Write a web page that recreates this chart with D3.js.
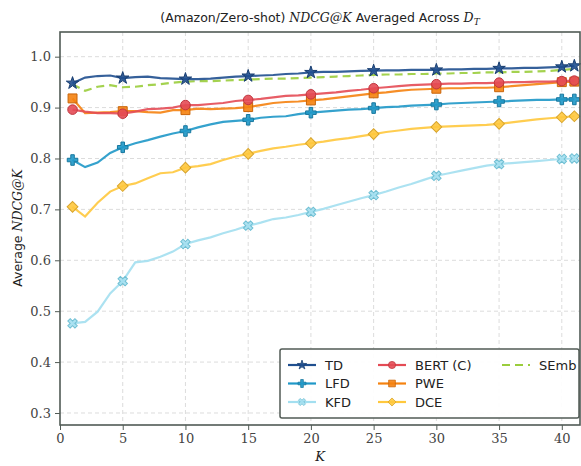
<!DOCTYPE html>
<html>
<head>
<meta charset="utf-8">
<script src="https://cdn.jsdelivr.net/npm/d3@7"></script>
<style>
  body { margin: 0; background: #fff; }
  svg { display: block; }
</style>
</head>
<body>
<svg></svg>
<script>
const width = 581;
const height = 466;

const kValues = d3.range(1, 42);
const markerKs = [1, 5, 10, 15, 20, 25, 30, 35, 40, 41];
const xTicks = [0, 5, 10, 15, 20, 25, 30, 35, 40];
const yTicks = [0.3, 0.4, 0.5, 0.6, 0.7, 0.8, 0.9, 1.0];

const tdValues = [0.948,0.959,0.962,0.963,0.958,0.960,0.961,0.958,0.957,0.956,0.956,0.957,0.959,0.961,0.962,0.963,0.964,0.966,0.967,0.969,0.970,0.970,0.971,0.972,0.9725,0.973,0.973,0.974,0.974,0.974,0.975,0.975,0.976,0.976,0.977,0.977,0.978,0.978,0.979,0.980,0.982];
const lfdValues = [0.797,0.783,0.792,0.811,0.822,0.830,0.836,0.843,0.849,0.854,0.861,0.867,0.872,0.874,0.876,0.880,0.882,0.883,0.887,0.890,0.892,0.894,0.896,0.897,0.899,0.901,0.902,0.904,0.905,0.906,0.908,0.909,0.910,0.911,0.912,0.913,0.914,0.915,0.915,0.916,0.916];
const kfdValues = [0.476,0.479,0.499,0.535,0.559,0.596,0.599,0.607,0.617,0.632,0.639,0.645,0.653,0.660,0.668,0.674,0.681,0.684,0.689,0.695,0.701,0.708,0.715,0.722,0.728,0.735,0.743,0.750,0.758,0.766,0.771,0.776,0.781,0.786,0.789,0.791,0.793,0.795,0.797,0.799,0.800];
const bertValues = [0.896,0.892,0.889,0.889,0.888,0.892,0.897,0.898,0.900,0.905,0.905,0.907,0.909,0.913,0.915,0.917,0.920,0.923,0.924,0.926,0.928,0.930,0.933,0.935,0.938,0.940,0.942,0.944,0.945,0.946,0.947,0.947,0.948,0.948,0.949,0.950,0.950,0.951,0.951,0.952,0.953];
const pweValues = [0.918,0.889,0.890,0.891,0.893,0.893,0.891,0.890,0.895,0.895,0.898,0.897,0.898,0.899,0.901,0.905,0.909,0.911,0.912,0.914,0.916,0.919,0.922,0.925,0.928,0.930,0.933,0.935,0.936,0.937,0.938,0.938,0.939,0.939,0.940,0.942,0.944,0.946,0.948,0.950,0.951];
const dceValues = [0.705,0.686,0.713,0.735,0.746,0.751,0.761,0.771,0.773,0.782,0.785,0.789,0.797,0.804,0.809,0.815,0.820,0.823,0.827,0.830,0.833,0.837,0.840,0.844,0.848,0.852,0.855,0.858,0.860,0.862,0.863,0.864,0.865,0.866,0.868,0.871,0.874,0.877,0.879,0.881,0.883];
const sembValues = [0.946,0.933,0.941,0.944,0.940,0.941,0.944,0.946,0.949,0.951,0.952,0.952,0.953,0.954,0.955,0.956,0.957,0.957,0.958,0.959,0.960,0.961,0.962,0.963,0.964,0.965,0.965,0.966,0.966,0.967,0.967,0.968,0.968,0.969,0.969,0.970,0.970,0.971,0.972,0.974,0.976];

// legend order is column by column
const series = [
  { name: "TD", values: tdValues, color: "#1f4f8f", edge: "#173d70", marker: "star" },
  { name: "LFD", values: lfdValues, color: "#1f98c8", edge: "#17789f", marker: "plus" },
  { name: "KFD", values: kfdValues, color: "#a3dff0", edge: "#6fbfd3", marker: "x" },
  { name: "BERT (C)", values: bertValues, color: "#e44b55", edge: "#c0363f", marker: "circle" },
  { name: "PWE", values: pweValues, color: "#f5820f", edge: "#c9650a", marker: "square" },
  { name: "DCE", values: dceValues, color: "#ffc83d", edge: "#d9a52c", marker: "diamond" },
  { name: "SEmb", values: sembValues, color: "#9acd3c", edge: "#9acd3c", marker: null, dashed: true }
];

const margin = { left: 60, right: 1, top: 32, bottom: 41 };

const svg = d3.select("svg").attr("width", width).attr("height", height);

const x = d3.scaleLinear().domain([0, 41.45]).range([margin.left, width - margin.right]);
const y = d3.scaleLinear().domain([0.2764, 1.0485]).range([height - margin.bottom, margin.top]);

const frameColor = "#515b55";
const serif = "'DejaVu Serif', 'Liberation Serif', serif";
const sans = "'DejaVu Sans', 'Noto Sans', sans-serif";

// grid
const grid = svg.append("g");
grid.selectAll("line.gx")
  .data(xTicks.filter((d) => d > 0))
  .enter()
  .append("line")
  .attr("x1", (d) => x(d)).attr("x2", (d) => x(d))
  .attr("y1", y.range()[1]).attr("y2", y.range()[0])
  .attr("stroke", "#dcdcdc").attr("stroke-dasharray", "4,3");
grid.selectAll("line.gy")
  .data(yTicks)
  .enter()
  .append("line")
  .attr("x1", x.range()[0]).attr("x2", x.range()[1])
  .attr("y1", (d) => y(d)).attr("y2", (d) => y(d))
  .attr("stroke", "#dcdcdc").attr("stroke-dasharray", "4,3");

// axes
const xAxis = svg.append("g")
  .attr("transform", `translate(0,${y.range()[0]})`)
  .call(d3.axisBottom(x).tickValues(xTicks).tickFormat(d3.format("d")).tickSize(5).tickPadding(4));
const yAxis = svg.append("g")
  .attr("transform", `translate(${x.range()[0]},0)`)
  .call(d3.axisLeft(y).tickValues(yTicks).tickFormat(d3.format(".1f")).tickSize(5).tickPadding(4));
[xAxis, yAxis].forEach((a) => {
  a.select(".domain").remove();
  a.selectAll("line").attr("stroke", frameColor).attr("stroke-width", 1);
  a.selectAll("text").attr("fill", "#444").style("font-family", serif).style("font-size", "13px");
});

// lines and markers
const line = d3.line()
  .x((d) => x(d.k))
  .y((d) => y(d.v));

function markerPath(type) {
  if (type === "star") return d3.symbol(d3.symbolStar, 48)();
  if (type === "plus") return d3.symbol(d3.symbolCross, 62)();
  if (type === "x") return d3.symbol(d3.symbolCross, 56)();
  if (type === "circle") return d3.symbol(d3.symbolCircle, 72)();
  if (type === "square") return d3.symbol(d3.symbolSquare, 80)();
  if (type === "diamond") return d3.symbol(d3.symbolSquare, 58)();
  return null;
}
function markerRotate(type) {
  return type === "x" || type === "diamond" ? 45 : 0;
}

const plot = svg.append("g");
series.slice().reverse().forEach((s) => {
  const pts = kValues.map((k, i) => ({ k: k, v: s.values[i] }));
  const g = plot.append("g");
  g.append("path")
    .datum(pts)
    .attr("d", line)
    .attr("fill", "none")
    .attr("stroke", s.color)
    .attr("stroke-width", 2.2)
    .attr("stroke-opacity", 0.9)
    .attr("stroke-dasharray", s.dashed ? "8,5" : null);
  if (s.marker) {
    g.selectAll("path.m")
      .data(pts.filter((p) => markerKs.includes(p.k)))
      .enter()
      .append("path")
      .attr("d", markerPath(s.marker))
      .attr("transform", (p) => `translate(${x(p.k)},${y(p.v)}) rotate(${markerRotate(s.marker)})`)
      .attr("fill", s.color)
      .attr("fill-opacity", 0.9)
      .attr("stroke", s.edge)
      .attr("stroke-width", 1);
  }
});

// frame
svg.append("rect")
  .attr("x", x.range()[0]).attr("y", y.range()[1])
  .attr("width", x.range()[1] - x.range()[0])
  .attr("height", y.range()[0] - y.range()[1])
  .attr("fill", "none")
  .attr("stroke", frameColor)
  .attr("stroke-width", 1.6);

// legend
const legend = svg.append("g").attr("transform", "translate(280,349)");
legend.append("rect")
  .attr("width", 299).attr("height", 69).attr("rx", 2)
  .attr("fill", "#fff").attr("fill-opacity", 0.92)
  .attr("stroke", frameColor).attr("stroke-width", 1.5);
const colX = [8, 98, 222];
series.forEach((s, i) => {
  const col = Math.floor(i / 3);
  const row = i % 3;
  const lg = legend.append("g").attr("transform", `translate(${colX[col]},${16 + row * 18.5})`);
  lg.append("line")
    .attr("x1", 0).attr("x2", 28)
    .attr("stroke", s.color).attr("stroke-width", 2.2)
    .attr("stroke-dasharray", s.dashed ? "8,5" : null);
  if (s.marker) {
    lg.append("path")
      .attr("d", markerPath(s.marker))
      .attr("transform", `translate(14,0) rotate(${markerRotate(s.marker)}) scale(0.75)`)
      .attr("fill", s.color).attr("fill-opacity", 0.9)
      .attr("stroke", s.edge).attr("stroke-width", 1);
  }
  lg.append("text")
    .attr("x", 37).attr("y", 0).attr("dy", "0.35em")
    .style("font-family", sans).style("font-size", "13px")
    .attr("fill", "#222")
    .text(s.name);
});

// title
const title = svg.append("text")
  .attr("x", 320).attr("y", 22)
  .attr("text-anchor", "middle")
  .style("font-family", sans).style("font-size", "12.5px")
  .attr("fill", "#222");
title.append("tspan").text("(Amazon/Zero-shot) ");
title.append("tspan").style("font-family", serif).style("font-style", "italic").text("NDCG@K");
title.append("tspan").text(" Averaged Across ");
title.append("tspan").style("font-family", serif).style("font-style", "italic").text("D");
title.append("tspan").attr("dy", 3).style("font-family", serif).style("font-style", "italic").style("font-size", "9px").text("T");

// axis labels
svg.append("text")
  .attr("x", 320).attr("y", 461)
  .attr("text-anchor", "middle")
  .style("font-family", serif).style("font-style", "italic").style("font-size", "13px")
  .attr("fill", "#222")
  .text("K");

const yl = svg.append("text")
  .attr("transform", "translate(22,228) rotate(-90)")
  .attr("text-anchor", "middle")
  .style("font-family", sans).style("font-size", "12.5px")
  .attr("fill", "#222");
yl.append("tspan").text("Average ");
yl.append("tspan").style("font-family", serif).style("font-style", "italic").text("NDCG@K");
</script>
</body>
</html>
